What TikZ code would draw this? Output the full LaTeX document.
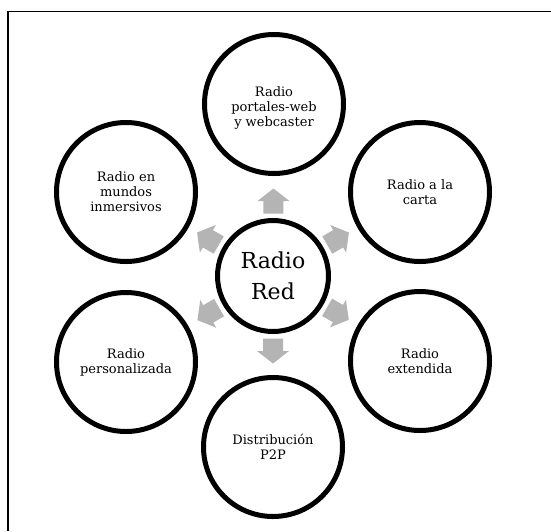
\documentclass[tikz,border=0pt]{standalone}
\usepackage{fontspec}
\setmainfont{DejaVu Serif}
\usetikzlibrary{shadows,calc}
\definecolor{arrgray}{RGB}{180,180,180}
\begin{document}
\begin{tikzpicture}[x=1pt,y=-1pt,
  lbl/.style={align=center, font=\fontsize{13}{15}\selectfont},
  bubble/.style={circle, draw=black, line width=5pt, fill=white, minimum size=139pt,
    inner sep=0pt, lbl,
    drop shadow={shadow xshift=0.8pt, shadow yshift=-1.6pt, opacity=0.22, fill=black}},
  hub/.style={bubble, minimum size=111pt, font=\fontsize{22}{31}\selectfont},
  garrow/.pic={\fill[arrgray] (-12.5,-10) -- (0,-10) -- (0,-16) -- (12.5,0) -- (0,16) -- (0,10) -- (-12.5,10) -- cycle;}
]
\useasboundingbox (0,0) rectangle (551,531);
\fill[white] (0,0) rectangle (551,531);
\draw[line width=1.2pt] (8,531) -- (8,11.5) -- (551,11.5);

\node[hub] (c) at (273,276) {Radio\\Red};
\node[bubble] (t)  at (274,104) {};
\node[lbl] (tlabel) at ($(t)+(0,4)$) {Radio\\portales-web\\y webcaster};
\node[bubble] (rt) at (420,192) {Radio a la\\carta};
\node[bubble] (rb) at (420,361) {Radio\\extendida};
\node[bubble] (b)  at (273,447) {Distribución\\P2P};
\node[bubble] (lb) at (126,362) {Radio\\personalizada};
\node[bubble] (lt) at (126,192) {Radio en\\mundos\\inmersivos};

\pic[rotate=90]  at ($(c)!75pt!(t)$)  {garrow};
\pic[rotate=30]  at ($(c)!75pt!(rt)$) {garrow};
\pic[rotate=-30] at ($(c)!75pt!(rb)$) {garrow};
\pic[rotate=-90] at ($(c)!75pt!(b)$)  {garrow};
\pic[rotate=210] at ($(c)!75pt!(lb)$) {garrow};
\pic[rotate=150] at ($(c)!75pt!(lt)$) {garrow};
\end{tikzpicture}
\end{document}
